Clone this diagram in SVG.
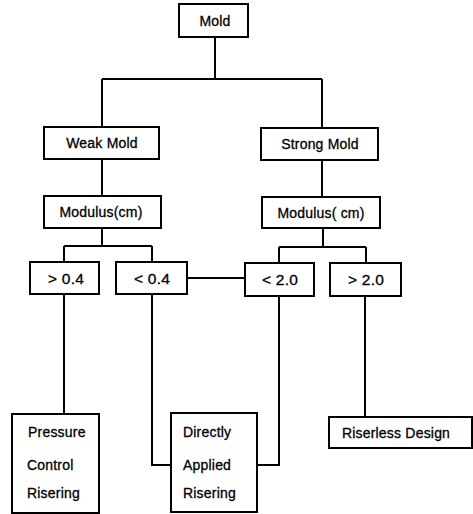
<svg xmlns="http://www.w3.org/2000/svg" width="473" height="514" viewBox="0 0 473 514">
<style>
.box{fill:#fff;stroke:#000;stroke-width:2}
.ln{fill:none;stroke:#000;stroke-width:2}
text{font-family:"Liberation Sans",Arial,sans-serif;font-size:14px;fill:#000;stroke:#000;stroke-width:0.3;letter-spacing:0.2px}
.c{text-anchor:middle}
.big{font-size:15.5px;letter-spacing:0.2px}
</style>
<rect width="473" height="514" fill="#fff"/>
<g id="connectors">
<path class="ln" d="M215,37 V79 M102,79 H322 M102,79 V127 M322,79 V128"/>
<path class="ln" d="M102,159 V196 M322,160 V197"/>
<path class="ln" d="M102,228 V246 M64,246 H152 M64,246 V262 M152,246 V262"/>
<path class="ln" d="M323,228 V247 M279,247 H366 M279,247 V263 M366,247 V263"/>
<path class="ln" d="M187,278 H245"/>
<path class="ln" d="M64,294 V414"/>
<path class="ln" d="M152,294 V465 H171"/>
<path class="ln" d="M279,296 V465 H257"/>
<path class="ln" d="M365,296 V417"/>
</g>
<g id="mold"><rect class="box" x="179" y="4" width="69" height="33"/><text class="c" x="215" y="26">Mold</text></g>
<g id="weak"><rect class="box" x="44" y="127" width="115" height="32"/><text class="c" x="102" y="148">Weak Mold</text></g>
<g id="strong"><rect class="box" x="261" y="128" width="117" height="32"/><text class="c" x="320" y="149">Strong Mold</text></g>
<g id="mod1"><rect class="box" x="44" y="196" width="117" height="32"/><text class="c" x="101" y="217">Modulus(cm)</text></g>
<g id="mod2"><rect class="box" x="262" y="197" width="118" height="31"/><text class="c" x="321" y="218">Modulus( cm)</text></g>
<g id="gt04"><rect class="box" x="30" y="262" width="69" height="32"/><text class="c big" x="66" y="284">&gt; 0.4</text></g>
<g id="lt04"><rect class="box" x="116" y="262" width="71" height="32"/><text class="c big" x="152" y="284">&lt; 0.4</text></g>
<g id="lt20"><rect class="box" x="245" y="263" width="69" height="33"/><text class="c big" x="280" y="285">&lt; 2.0</text></g>
<g id="gt20"><rect class="box" x="330" y="263" width="71" height="33"/><text class="c big" x="366" y="285">&gt; 2.0</text></g>
<g id="pressure"><rect class="box" x="12" y="414" width="87" height="99"/>
<text x="28" y="437">Pressure</text><text x="27" y="470">Control</text><text x="27" y="498">Risering</text></g>
<g id="direct"><rect class="box" x="171" y="413" width="86" height="99"/>
<text x="183" y="437">Directly</text><text x="183" y="470">Applied</text><text x="183" y="498">Risering</text></g>
<g id="riserless"><rect class="box" x="329" y="417" width="143" height="31"/><text class="c" x="396" y="438">Riserless Design</text></g>
</svg>
